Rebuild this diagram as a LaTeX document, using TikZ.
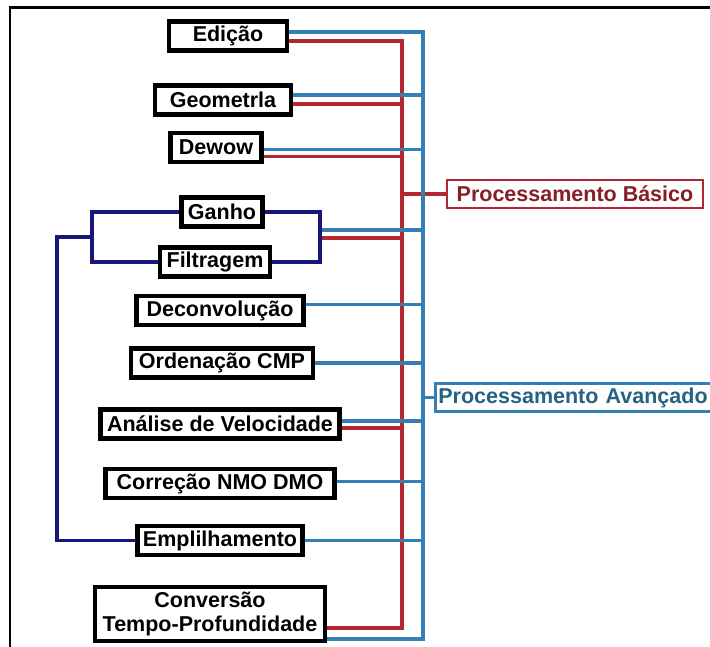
\documentclass[tikz,border=0pt]{standalone}
\usepackage{fontspec}
\setmainfont{Liberation Sans}
\usepackage{xcolor}
\usetikzlibrary{positioning}
\definecolor{procred}{RGB}{180,38,48}
\definecolor{procblue}{RGB}{52,128,182}
\definecolor{procnavy}{RGB}{22,22,125}
\definecolor{basictext}{RGB}{135,30,35}
\definecolor{advtext}{RGB}{38,98,130}

\begin{document}
\begin{tikzpicture}[x=1pt, y=-1pt,
		stepnode/.style={rectangle, draw=black, fill=white, line width=4.2pt, minimum height=29pt, inner sep=1pt, font=\bfseries\fontsize{21.5}{24}\selectfont},
		groupnode/.style={rectangle, fill=white, line width=2.8pt, minimum height=28pt, inner sep=2pt, font=\bfseries\fontsize{21.5}{24}\selectfont},
		redlink/.style={draw=procred, line width=3.8pt},
		bluelink/.style={draw=procblue, line width=3.8pt},
		navylink/.style={draw=procnavy, line width=3.4pt},
		]
		\clip (0,0) rectangle (710,646);
		\fill[white] (0,0) rectangle (710,646);
		\draw[line width=2.4pt] (10,650) -- (10,7.5) -- (715,7.5);

		%Nodes
		\node[stepnode, minimum width=118pt] (edicao)      at (228,36)  {Edição};
		\node[stepnode, minimum width=136pt] (geometria)   at (223,100) {Geometrla};
		\node[stepnode, minimum width=91pt]  (dewow)       at (216,147.5) {Dewow};
		\node[stepnode, minimum width=81pt]  (ganho)       at (222,212) {Ganho};
		\node[stepnode, minimum width=110pt] (filtragem)   at (215,262) {Filtragem};
		\node[stepnode, minimum width=167pt] (deconv)      at (220,310.5) {Deconvolução};
		\node[stepnode, minimum width=182pt] (ordenacao)   at (222,363) {Ordenação CMP};
		\node[stepnode, minimum width=239pt] (analise)     at (220,424) {Análise de Velocidade};
		\node[stepnode, minimum width=229pt] (correcao)    at (220,483.5) {Correção NMO DMO};
		\node[stepnode, minimum width=165pt] (empilha)     at (220,540.5) {Emplilhamento};
		\node[stepnode, minimum width=230pt, minimum height=54pt, align=center] (conversao) at (210,614) {Conversão\\Tempo-Profundidade};

		\node[groupnode, draw=procred, text=basictext, minimum width=256pt] (basico) at (575,194) {Processamento Básico};
		\node[groupnode, draw=procblue, text=advtext, anchor=west, minimum width=290pt, inner xsep=3pt, align=left, text width=284pt] (avancado) at (434,397.5) {Processamento Avançado};

		% Buses and ports
		\coordinate (redbus)  at (402,0);
		\coordinate (bluebus) at (423,0);
		\coordinate (gfright) at (320,0);
		\coordinate (gfleft)  at (92,0);
		\coordinate (stackbus) at (57,0);
		\coordinate (gfjoin)  at (92,237);
		\coordinate (gf-b)    at (320,230);
		\coordinate (gf-r)    at (320,238);

		\coordinate (edicao-b)    at ([yshift=4pt]edicao.east);
		\coordinate (edicao-r)    at ([yshift=-5pt]edicao.east);
		\coordinate (geometria-b) at ([yshift=5pt]geometria.east);
		\coordinate (geometria-r) at ([yshift=-4pt]geometria.east);
		\coordinate (dewow-b)     at ([yshift=-2pt]dewow.east);
		\coordinate (dewow-r)     at ([yshift=-9pt]dewow.east);
		\coordinate (deconv-b)    at ([yshift=6pt]deconv.east);
		\coordinate (ordenacao-b) at (ordenacao.east);
		\coordinate (analise-b)   at ([yshift=3pt]analise.east);
		\coordinate (analise-r)   at ([yshift=-4pt]analise.east);
		\coordinate (correcao-b)  at ([yshift=2pt]correcao.east);
		\coordinate (empilha-b)   at (empilha.east);
		\coordinate (conversao-r) at ([yshift=-14pt]conversao.east);
		\coordinate (conversao-b) at ([yshift=-25pt]conversao.east);

		%Lines
		\draw[redlink] (redbus |- basico.west) -- (basico.west);
		\draw[bluelink] (edicao-b) -| (bluebus |- conversao-b) -- (conversao-b);
		\draw[redlink] (edicao-r) -| (redbus |- conversao-r) -- (conversao-r);
		\draw[bluelink] (bluebus |- avancado.west) -- (avancado.west);
		\foreach \port in {geometria-b, dewow-b, gf-b, deconv-b, ordenacao-b, analise-b, correcao-b, empilha-b}
			\draw[bluelink] (\port) -- (\port -| bluebus);
		\foreach \port in {geometria-r, dewow-r, gf-r, analise-r}
			\draw[redlink] (\port) -- (\port -| redbus);

		% Ganho / Filtragem group
		\draw[navylink] (ganho.east) -| (gfright |- filtragem.east) -- (filtragem.east);
		\draw[navylink] (ganho.west) -| (gfleft |- filtragem.west) -- (filtragem.west);
		\draw[navylink] (gfjoin) -| (stackbus |- empilha.west) -- (empilha.west);
	\end{tikzpicture}
\end{document}
